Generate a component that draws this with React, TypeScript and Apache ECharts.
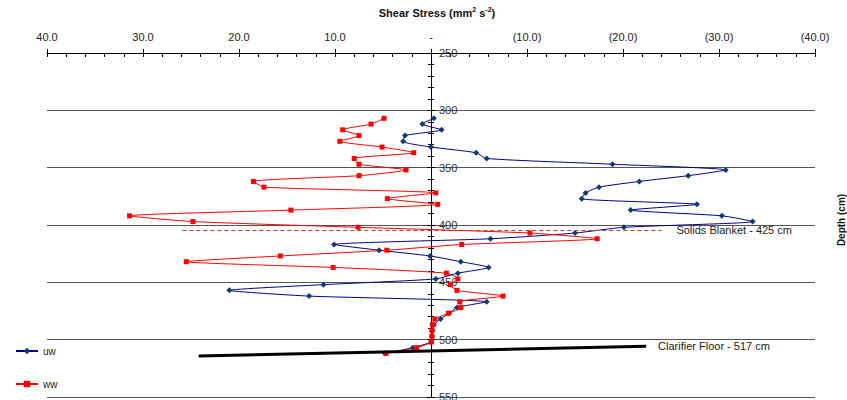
import { useEffect, useRef } from 'react';
import * as echarts from 'echarts';

// Sampling depths (cm) shared by both profiles
const depths = [
  307, 312, 317, 322, 327, 332, 337, 342, 347, 352, 357, 362, 367, 372,
  377, 382, 387, 392, 397, 402, 407, 412, 417, 422, 427, 432, 437, 442,
  447, 452, 457, 462, 467, 472, 477, 482, 487, 492, 497, 502, 507, 512,
];

// Shear stress (mm² s⁻²) for the "uw" component
const uwStress = [
  -0.3, 0.9, -1.1, 2.7, 2.9, 0.0, -4.7, -5.8, -18.9, -30.7, -26.8, -21.7, -17.5, -16.1,
  -15.7, -27.7, -20.8, -30.3, -33.5, -20.1, -15.0, -6.2, 10.1, 5.4, 0.1, -3.1, -6.0, -2.8,
  -0.5, 11.2, 21.0, 12.7, -5.8, -2.7, -1.9, -1.0, -0.3, -0.15, -0.1, 0.0, 1.9, 4.8,
];

// Shear stress (mm² s⁻²) for the "ww" component
const wwStress = [
  4.9, 6.25, 9.2, 7.5, 9.5, 5.1, 1.8, 8.0, 7.5, 2.6, 7.5, 18.5, 17.4, -0.5,
  4.55, -0.7, 14.6, 31.4, 24.8, 7.6, -10.3, -17.3, -3.2, 4.6, 15.7, 25.5, 10.2, -1.6,
  -2.8, -2.0, -2.7, -7.5, -3.0, -3.1, -1.8, -0.4, -0.15, -0.1, -0.1, -0.05, 1.5, 4.7,
];

// Axis ranges
const shearRange = [-40, 40];
const depthRange = [250, 550];

// Reference lines: [shear, depth] end points
const blanketLine = [[25.9, 404.4], [-24.0, 404.4]];
const floorLine = [[24.2, 514.2], [-22.4, 505.7]];
const blanketText = 'Solids Blanket - 425 cm';
const floorText = 'Clarifier Floor - 517 cm';

const FONT = '"Liberation Sans", Arial, sans-serif';

// Plot area
const GRID = { left: 47, right: 32, top: 53, bottom: 3 };
const PAGE_W = 847;
// The depth axis sits in the middle of the plot (shear = 0), so shift both
// y axes inward from their edges by half the plot width.
const HALF_PLOT = (PAGE_W - GRID.left - GRID.right) / 2;

const fmtShear = (v: number) =>
  v === 0 ? '-' : v > 0 ? v.toFixed(1) : `(${(-v).toFixed(1)})`;

export default function App() {
  const ref = useRef<HTMLDivElement>(null);

  useEffect(() => {
    if (!ref.current) return;
    const chart = echarts.init(ref.current, null, { renderer: 'svg' });

    const xBase = {
      type: 'value',
      position: 'top',
      min: shearRange[0],
      max: shearRange[1],
      interval: 10,
      inverse: true,
      splitLine: { show: false },
    };
    const yBase = {
      type: 'value',
      inverse: true,
      min: depthRange[0],
      max: depthRange[1],
      interval: 50,
      offset: -HALF_PLOT,
    };

    chart.setOption({
      animation: false,
      backgroundColor: '#ffffff',
      grid: { ...GRID, outerBoundsMode: 'none' },
      legend: {
        orient: 'vertical',
        left: 10,
        top: 341,
        itemWidth: 22,
        itemHeight: 8,
        itemGap: 23,
        data: ['uw', 'ww'],
        textStyle: { fontSize: 10, color: '#222', fontFamily: FONT },
      },
      xAxis: [
        {
          ...xBase,
          axisLine: { show: true, onZero: false, lineStyle: { color: '#000', width: 1 } },
          axisTick: { show: true, inside: true, length: 4, lineStyle: { color: '#000' } },
          minorTick: { show: true, splitNumber: 5, length: 4, lineStyle: { color: '#000' } },
          axisLabel: { formatter: fmtShear, margin: 11, color: '#222', fontSize: 11, fontFamily: FONT },
        },
        {
          ...xBase,
          axisLine: { show: false, onZero: false },
          axisTick: { show: true, inside: false, length: 4, lineStyle: { color: '#000' } },
          axisLabel: { show: false },
        },
      ],
      yAxis: [
        {
          ...yBase,
          position: 'right',
          axisLine: { show: true, onZero: false, lineStyle: { color: '#000', width: 1 } },
          axisTick: { show: true, length: 4, lineStyle: { color: '#000' } },
          minorTick: { show: true, splitNumber: 5, length: 3, lineStyle: { color: '#000' } },
          axisLabel: { margin: 8, color: '#333', fontSize: 11, fontFamily: FONT },
          splitLine: { show: true, lineStyle: { color: '#555', width: 1 } },
        },
        {
          ...yBase,
          position: 'left',
          axisLine: { show: true, onZero: false, lineStyle: { color: '#000', width: 1 } },
          axisTick: { show: true, length: 4, lineStyle: { color: '#000' } },
          minorTick: { show: true, splitNumber: 5, length: 3, lineStyle: { color: '#000' } },
          axisLabel: { show: false },
          splitLine: { show: false },
        },
      ],
      series: [
        {
          name: 'uw',
          type: 'line',
          xAxisIndex: 0,
          yAxisIndex: 0,
          data: depths.map((d, i) => [uwStress[i], d]),
          symbol: 'diamond',
          symbolSize: 6,
          smooth: 0.2,
          lineStyle: { color: '#000080', width: 1 },
          itemStyle: { color: '#0b3b73' },
          markLine: {
            silent: true,
            symbol: ['none', 'none'],
            lineStyle: { color: '#000', width: 3, type: 'solid' },
            label: {
              show: true,
              position: 'end',
              distance: 12,
              formatter: floorText,
              color: '#222',
              fontSize: 11,
              fontFamily: FONT,
            },
            data: [[{ coord: floorLine[0] }, { coord: floorLine[1] }]],
          },
        },
        {
          name: 'ww',
          type: 'line',
          xAxisIndex: 0,
          yAxisIndex: 0,
          data: depths.map((d, i) => [wwStress[i], d]),
          symbol: 'rect',
          symbolSize: 5,
          smooth: 0.2,
          lineStyle: { color: '#ff0000', width: 1 },
          itemStyle: { color: '#ff0000' },
          markLine: {
            silent: true,
            symbol: ['none', 'none'],
            lineStyle: { color: '#cc3333', width: 1, type: [4, 3] },
            label: {
              show: true,
              position: 'end',
              distance: 15,
              formatter: blanketText,
              color: '#222',
              fontSize: 11,
              fontFamily: FONT,
            },
            data: [[{ coord: blanketLine[0] }, { coord: blanketLine[1] }]],
          },
        },
      ],
      graphic: [
        {
          type: 'text',
          x: 437,
          y: 13,
          style: {
            text: '{b|Shear Stress (mm}{s|2}{b| s}{s|-2}{b|)}',
            align: 'center',
            verticalAlign: 'middle',
            rich: {
              b: { fontSize: 11, fontWeight: 'bold', fontFamily: FONT, fill: '#111', lineHeight: 14 },
              s: { fontSize: 7, fontWeight: 'bold', fontFamily: FONT, fill: '#111', lineHeight: 14, verticalAlign: 'top', padding: [0, 0, 5, 0] },
            },
          },
        },
        {
          type: 'text',
          x: 841,
          y: 220,
          rotation: Math.PI / 2,
          style: {
            text: 'Depth (cm)',
            align: 'center',
            verticalAlign: 'middle',
            font: `bold 10px ${FONT}`,
            fill: '#111',
          },
        },
      ],
    });

    return () => chart.dispose();
  }, []);

  return (
    <div
      ref={ref}
      style={{ position: 'fixed', left: 0, top: 0, width: PAGE_W, height: 400, background: '#fff' }}
    />
  );
}
